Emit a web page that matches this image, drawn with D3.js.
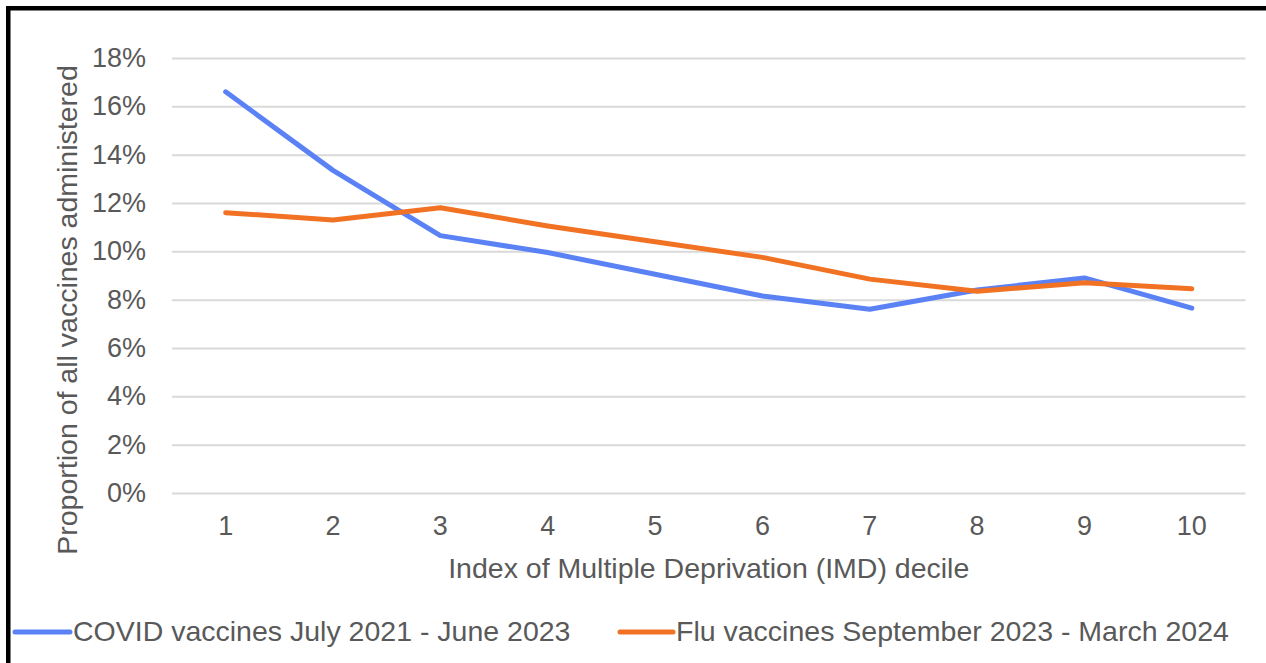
<!DOCTYPE html>
<html>
<head>
<meta charset="utf-8">
<script src="https://cdn.jsdelivr.net/npm/d3@7"></script>
<style>
  html, body { margin: 0; padding: 0; background: #fff; }
  svg { display: block; }
  text { font-family: "Liberation Sans", Arial, sans-serif; }
</style>
</head>
<body>
<script>
// IMD deciles (1 = most deprived)
const deciles = ["1", "2", "3", "4", "5", "6", "7", "8", "9", "10"];
// Share of all vaccines administered, in percent
const covidShare = [16.6, 13.35, 10.65, 9.95, 9.05, 8.15, 7.6, 8.4, 8.9, 7.65];
const fluShare = [11.6, 11.3, 11.8, 11.05, 10.4, 9.75, 8.85, 8.35, 8.7, 8.45];
const yTicks = [0, 2, 4, 6, 8, 10, 12, 14, 16, 18];
const seriesNames = ["COVID vaccines July 2021 - June 2023", "Flu vaccines September 2023 - March 2024"];
const seriesColors = ["#5b82f5", "#f27224"];

const W = 1266, H = 663;
const svg = d3.select("body").append("svg").attr("width", W).attr("height", H);

svg.append("rect").attr("width", W).attr("height", H).attr("fill", "#fff");

// frame: heavy rule along top and left edges
svg.append("rect").attr("x", 6).attr("y", 6).attr("width", W - 6).attr("height", 4.5).attr("fill", "#000");
svg.append("rect").attr("x", 6).attr("y", 6).attr("width", 4.5).attr("height", H - 6).attr("fill", "#000");

const plot = { left: 172, right: 1245.5, top: 58, bottom: 493 };

const x = d3.scaleBand().domain(deciles).range([plot.left, plot.right]);
const y = d3.scaleLinear().domain([0, 18]).range([plot.bottom, plot.top]);

const textColor = "#595959";
const tickSize = 27;
const labelSize = 28.5;

// gridlines + y labels
const yAxis = d3.axisLeft(y).tickValues(yTicks).tickFormat(d => d + "%")
  .tickSize(-(plot.right - plot.left)).tickPadding(26);
const gy = svg.append("g").attr("transform", `translate(${plot.left},0)`).call(yAxis);
gy.select(".domain").remove();
gy.selectAll(".tick line").attr("stroke", "#d9d9d9").attr("stroke-width", 2);
gy.selectAll(".tick text").attr("fill", textColor).attr("font-size", tickSize);

// x labels
const xAxis = d3.axisBottom(x).tickSize(0).tickPadding(23);
const gx = svg.append("g").attr("transform", `translate(0,${plot.bottom})`).call(xAxis);
gx.select(".domain").remove();
gx.selectAll(".tick text").attr("fill", textColor).attr("font-size", tickSize);

// axis titles
svg.append("text")
  .attr("x", (plot.left + plot.right) / 2)
  .attr("y", 578)
  .attr("text-anchor", "middle")
  .attr("fill", textColor)
  .attr("font-size", labelSize)
  .text("Index of Multiple Deprivation (IMD) decile");

svg.append("text")
  .attr("transform", `translate(77,${310}) rotate(-90)`)
  .attr("text-anchor", "middle")
  .attr("fill", textColor)
  .attr("font-size", labelSize)
  .text("Proportion of all vaccines administered");

// series lines
const line = d3.line()
  .x((d, i) => x(deciles[i]) + x.bandwidth() / 2)
  .y(d => y(d));

[covidShare, fluShare].forEach((vals, k) => {
  svg.append("path")
    .datum(vals)
    .attr("d", line)
    .attr("fill", "none")
    .attr("stroke", seriesColors[k])
    .attr("stroke-width", 5)
    .attr("stroke-linejoin", "round")
    .attr("stroke-linecap", "round");
});

// legend
const legendItems = [{ x: 15, lineEnd: 70 }, { x: 620, lineEnd: 673 }];
legendItems.forEach((it, k) => {
  const g = svg.append("g");
  g.append("line")
    .attr("x1", it.x).attr("x2", it.lineEnd)
    .attr("y1", 632).attr("y2", 632)
    .attr("stroke", seriesColors[k]).attr("stroke-width", 5)
    .attr("stroke-linecap", "round");
  g.append("text")
    .attr("x", it.lineEnd + 3)
    .attr("y", 641)
    .attr("fill", textColor)
    .attr("font-size", labelSize)
    .text(seriesNames[k]);
});
</script>
</body>
</html>
